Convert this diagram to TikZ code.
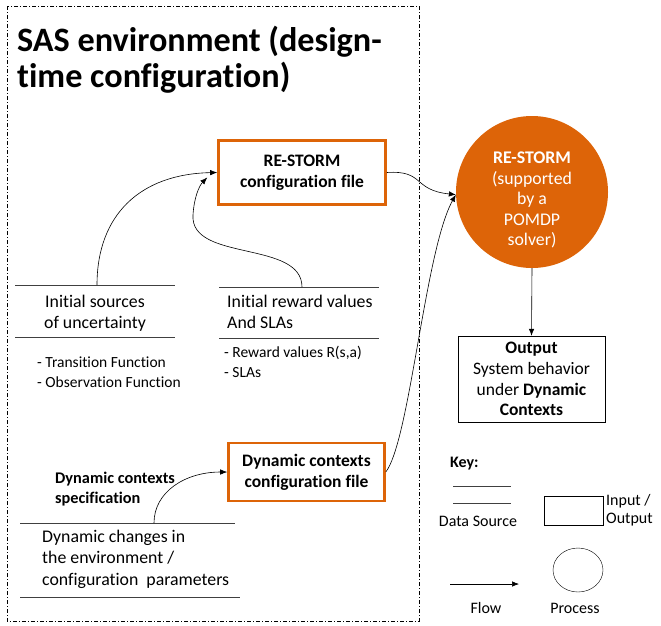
\documentclass[tikz,border=0pt]{standalone}
\usepackage{fontspec}
\setmainfont{Carlito}[Ligatures=NoCommon]
\usetikzlibrary{arrows.meta,shapes.geometric}
\definecolor{orng}{RGB}{221,100,8}
\begin{document}
\begin{tikzpicture}[x=1pt,y=-1pt,
  txt/.style={font=\fontsize{17.8}{20.5}\selectfont, inner sep=0pt},
  small/.style={font=\fontsize{15.5}{20}\selectfont, inner sep=0pt, align=left},
  keytxt/.style={font=\fontsize{16}{18}\selectfont, inner sep=0pt},
  cfgbox/.style={draw=orng, line width=2.6pt, align=center, inner sep=0pt,
    font=\bfseries\fontsize{17.5}{21}\selectfont},
  iobox/.style={draw, thin, inner sep=0pt, align=center},
  flow/.style={-{Latex[length=7pt,width=5.5pt]}, line width=0.6pt},
  srcline/.style={line width=0.8pt, black!75},
  envframe/.style={line width=0.5pt, dash pattern=on 4pt off 2pt on 1pt off 2pt}
]
\useasboundingbox (0,0) rectangle (661,625);
\draw[envframe] (7,6) rectangle (419,621);

\node[anchor=base west, align=left, inner sep=0pt,
  font=\bfseries\fontsize{34.2}{36}\selectfont] (title) at (17,87)
  {SAS environment (design-\\time configuration)};

% configuration boxes
\node[cfgbox, minimum width=167pt, minimum height=64pt] (cfg) at (302,172.5)
  {RE-STORM\\configuration file};
\node[cfgbox, minimum width=156pt, minimum height=58pt] (dyn) at (306.5,472)
  {Dynamic contexts\\configuration file};

% process circle
\node[circle, fill=orng, minimum size=152pt, inner sep=0pt] (circ) at (532,192) {};
\node[txt, text=white, align=center] (circtxt) at (532,200)
  {\textbf{RE-STORM}\\(supported\\by a\\POMDP\\solver)};

% output box
\node[iobox, minimum width=147pt, minimum height=86pt,
  font=\fontsize{17.5}{20.7}\selectfont] (out) at (531.5,379)
  {\textbf{Output}\\System behavior\\under \textbf{Dynamic}\\\textbf{Contexts}};

% data source: initial sources of uncertainty
\draw[srcline] (15,285) coordinate (u1) -- (175,285) coordinate (u2);
\draw[srcline] (15,337) coordinate (u3) -- (175,337) coordinate (u4);
\coordinate (ustart) at (97,285);
\node[txt, align=center, anchor=base] (unc) at (95,328) {Initial sources\\of uncertainty};
\node[small, anchor=base west] (uncb) at (37,387) {- Transition Function\\- Observation Function};

% data source: initial reward values
\draw[srcline] (219,287) coordinate (r1) -- (379,287) coordinate (r2);
\draw[srcline] (219,338) coordinate (r3) -- (379,338) coordinate (r4);
\coordinate (rstart) at (302,287);
\node[txt, align=left, anchor=base west] (rew) at (227,328) {Initial reward values\\And SLAs};
\node[small, anchor=base west, font=\fontsize{15.5}{19.5}\selectfont] (rewb) at (224,377) {- Reward values R(s,a)\\- SLAs};

% data source: dynamic changes
\draw[srcline] (20,523) coordinate (d1) -- (235,523) coordinate (d2);
\draw[srcline] (20,597) coordinate (d3) -- (240,597) coordinate (d4);
\coordinate (dstart) at (154,523);
\node[txt, align=left, anchor=base west, font=\fontsize{17.8}{21.5}\selectfont] (dch) at (42,585)
  {Dynamic changes in\\the environment /\\configuration~ parameters};
\node[align=left, anchor=base west, inner sep=0pt,
  font=\bfseries\fontsize{16.3}{20}\selectfont] (spec) at (55,503)
  {Dynamic contexts\\specification};

% flows
\draw[flow] (ustart) .. controls (97,215) and (140,174) .. (cfg.west);
\coordinate (rend) at ([shift={(-10,5)}]cfg.west);
\draw[flow] (rstart) .. controls (302,240) and (190,262) .. (193,215)
  .. controls (194,198) and (199,186) .. (rend);
\draw[flow] (cfg.east) .. controls (425,170) and (412,190) .. (circ.182);
\draw[flow] (dyn.east) .. controls (410,440) and (425,250) .. (circ.182);
\draw[flow] (dstart) .. controls (154,492) and (185,472) .. (dyn.west);
\draw[flow] (circ.south) -- (out.north);

% key
\node[anchor=base west, inner sep=0pt, font=\bfseries\fontsize{16}{18}\selectfont] (key) at (450,467) {Key:};
\draw[srcline] (453,486) coordinate (k1) -- (511,486) coordinate (k2);
\draw[srcline] (453,503) coordinate (k3) -- (511,503) coordinate (k4);
\node[keytxt, anchor=base] (kds) at (478,526) {Data Source};
\node[iobox, minimum width=59pt, minimum height=29pt] (kio) at (574,511) {};
\node[keytxt, align=left, anchor=base west] (kiot) at (606,523) {Input /\\Output};
\coordinate (kf1) at (450,584);
\coordinate (kf2) at (519,584);
\draw[flow] (kf1) -- (kf2);
\node[keytxt, anchor=base] (kflow) at (486,613) {Flow};
\node[draw, thin, ellipse, minimum width=50pt, minimum height=44pt, inner sep=0pt] (kproc) at (578,570) {};
\node[keytxt, anchor=base] (kproct) at (575,613) {Process};
\end{tikzpicture}
\end{document}
